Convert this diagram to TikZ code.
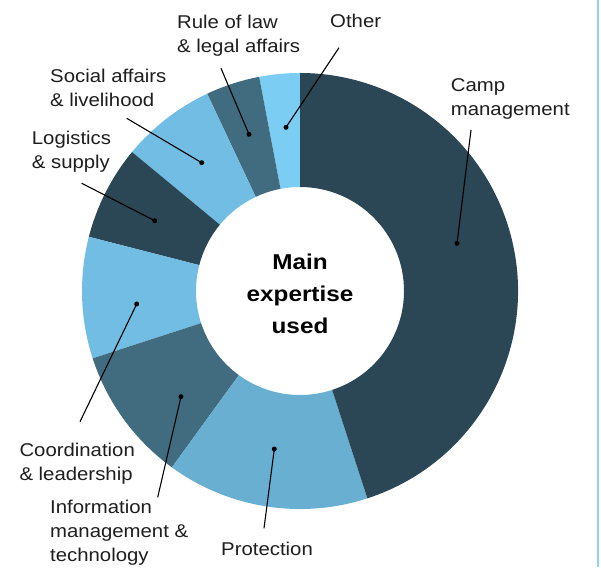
\documentclass[tikz,border=0pt]{standalone}
\usepackage{fontspec}
\newfontfamily\labelfont{Liberation Sans}[FakeStretch=1.1]
\newfontfamily\centerfont{Liberation Sans}[FakeStretch=1.13]
\definecolor{darkslate}{HTML}{2B4654}
\definecolor{midslate}{HTML}{416C80}
\definecolor{protblue}{HTML}{68AFD1}
\definecolor{lightblue}{HTML}{72BDE3}
\definecolor{skyblue}{HTML}{7BCDF3}
\definecolor{edgeblue}{HTML}{8FD3F5}
\definecolor{txt}{HTML}{1E1E1E}
\begin{document}
\begin{tikzpicture}[x=1pt,y=1pt,
  lbl/.style={anchor=base west, inner sep=0pt, align=left, text=txt,
              font=\labelfont\fontsize{18.5}{24}\selectfont},
  hubtext/.style={inner sep=0pt, align=center, text=black,
              font=\centerfont\bfseries\fontsize{21.5}{32}\selectfont},
  lead/.style={draw=black, line width=1.1pt},
  dotc/.style={circle, fill=black, inner sep=0pt, minimum size=5pt}]
\useasboundingbox (0,0) rectangle (601,567);
\fill[white] (0,0) rectangle (601,567);
\coordinate (c) at (300,276);
% donut sectors
\newcommand{\ringsector}[3]{%
  \fill[#3] ([shift={(#1:218pt)}]c) arc[start angle=#1, end angle=#2, radius=218pt]
    -- ([shift={(#2:104pt)}]c) arc[start angle=#2, end angle=#1, radius=104pt] -- cycle;}
\ringsector{90}{100.8}{skyblue}
\ringsector{100.8}{115.2}{midslate}
\ringsector{115.2}{140.4}{lightblue}
\ringsector{140.4}{165.6}{darkslate}
\ringsector{165.6}{198}{lightblue}
\ringsector{198}{234}{midslate}
\ringsector{234}{288}{protblue}
\ringsector{288}{450}{darkslate}
% centre text
\node[hubtext] (hub) at (300,273.5) {Main\\expertise\\used};
% labels (anchor is the baseline of the last line)
\node[lbl] (lRule) at (177,514.7) {Rule of law\\\& legal affairs};
\node[lbl] (lOther) at (330,539.7) {Other};
\node[lbl] (lSocial) at (50,460.3) {Social affairs\\\& livelihood};
\node[lbl] (lLog) at (31.7,398.7) {Logistics\\\& supply};
\node[lbl] (lCamp) at (450.7,451) {Camp\\management};
\node[lbl] (lCoord) at (19.3,87) {Coordination\\\& leadership};
\node[lbl] (lInfo) at (50,5.3) {Information\\management \&\\technology};
\node[lbl] (lProt) at (221,12) {Protection};
% dots and leader ends
\node[dotc] (dOther) at (286,439.7) {};
\node[dotc] (dRule) at (249,432.7) {};
\node[dotc] (dSocial) at (201.7,404.3) {};
\node[dotc] (dLog) at (154.7,346.3) {};
\node[dotc] (dCoord) at (136.7,263) {};
\node[dotc] (dInfo) at (181,170.3) {};
\node[dotc] (dProt) at (274.3,118) {};
\node[dotc] (dCamp) at (457,323.7) {};
\coordinate (eOther) at (339,519.3);
\coordinate (eRule) at (221,498.7);
\coordinate (eSocial) at (126.7,448.7);
\coordinate (eLog) at (81.7,383.7);
\coordinate (eCoord) at (80,145.3);
\coordinate (eInfo) at (157.7,69.7);
\coordinate (eProt) at (264,38.7);
\coordinate (eCamp) at (471,437);
\draw[lead] (dOther.center) -- (eOther);
\draw[lead] (dRule.center) -- (eRule);
\draw[lead] (dSocial.center) -- (eSocial);
\draw[lead] (dLog.center) -- (eLog);
\draw[lead] (dCoord.center) -- (eCoord);
\draw[lead] (dInfo.center) -- (eInfo);
\draw[lead] (dProt.center) -- (eProt);
\draw[lead] (dCamp.center) -- (eCamp);
% right edge rule
\coordinate (rTop) at (598,567);
\coordinate (rBot) at (598,0);
\draw[edgeblue, line width=1.5pt] (rTop) -- (rBot);
\end{tikzpicture}
\end{document}
